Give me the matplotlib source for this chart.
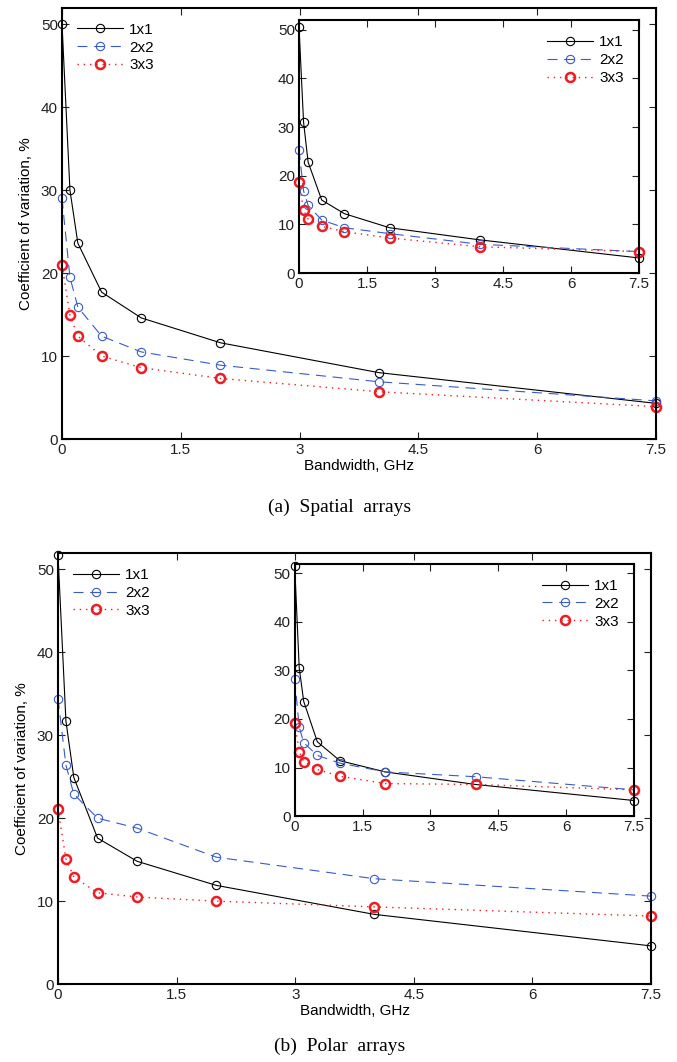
import matplotlib
matplotlib.use('Agg')
import matplotlib.pyplot as plt

plt.rcParams['font.family'] = ['Liberation Sans', 'DejaVu Sans']

# bandwidth values, GHz
bandwidth = [0, 0.1, 0.2, 0.5, 1, 2, 4, 7.5]
labels = ['1x1', '2x2', '3x3']
x_ticks = [0, 1.5, 3, 4.5, 6, 7.5]
x_tick_labels = ['0', '1.5', '3', '4.5', '6', '7.5']
y_ticks = [0, 10, 20, 30, 40, 50]

# (a) spatial arrays - main plot
spatial_1x1 = [50.0, 30.0, 23.6, 17.7, 14.6, 11.6, 8.0, 4.3]
spatial_2x2 = [29.0, 19.5, 15.9, 12.4, 10.5, 8.9, 6.9, 4.6]
spatial_3x3 = [21.0, 14.9, 12.4, 10.0, 8.6, 7.3, 5.7, 3.9]
# (a) spatial arrays - inset
spatial_in_1x1 = [50.5, 31.0, 22.8, 15.0, 12.2, 9.3, 6.8, 3.1]
spatial_in_2x2 = [25.3, 16.9, 13.9, 10.9, 9.3, 8.1, 5.9, 4.4]
spatial_in_3x3 = [18.7, 12.9, 11.1, 9.6, 8.5, 7.2, 5.4, 4.4]

# (b) polar arrays - main plot
polar_1x1 = [51.7, 31.7, 24.9, 17.6, 14.8, 11.9, 8.4, 4.6]
polar_2x2 = [34.4, 26.4, 22.9, 20.0, 18.8, 15.3, 12.7, 10.6]
polar_3x3 = [21.1, 15.1, 12.9, 11.0, 10.5, 10.0, 9.3, 8.2]
# (b) polar arrays - inset
polar_in_1x1 = [51.5, 30.5, 23.6, 15.3, 11.4, 9.1, 6.5, 3.2]
polar_in_2x2 = [28.2, 18.3, 15.1, 12.5, 10.9, 9.1, 8.1, 5.4]
polar_in_3x3 = [19.2, 13.3, 11.2, 9.6, 8.2, 6.7, 6.5, 5.4]

styles = [
    dict(color='black', linestyle='-', linewidth=0.8, marker='o', markersize=6,
         markerfacecolor='none', markeredgewidth=0.8),
    dict(color='#3a5bc7', linestyle=(0, (9, 6)), linewidth=0.8, marker='o', markersize=6,
         markerfacecolor='none', markeredgewidth=0.8),
    dict(color='#ee1c24', linestyle=(0, (1, 3.5)), linewidth=1.0, marker='o', markersize=6.5,
         markerfacecolor='none', markeredgewidth=1.8),
]

FS = 11


def draw(ax, series, legend_loc):
    for vals, lab, st in zip(series, labels, styles):
        ax.plot(bandwidth, vals, label=lab, clip_on=False, **st)
    ax.set_xlim(0, 7.5)
    ax.set_ylim(0, 52)
    ax.set_xticks(x_ticks)
    ax.set_xticklabels(x_tick_labels)
    ax.set_yticks(y_ticks)
    ax.tick_params(direction='in', top=True, right=True, labelsize=FS,
                   length=5, width=0.8, colors='#222222', pad=3)
    for sp in ax.spines.values():
        sp.set_linewidth(1.5)
    ax.legend(loc=legend_loc, frameon=False, fontsize=FS, handlelength=3.0,
              handletextpad=0.4, borderaxespad=0.6, labelspacing=0.25)


fig = plt.figure(figsize=(6.77, 10.62), dpi=100)

ax_a = fig.add_axes([0.0916, 0.5866, 0.8774, 0.4063])
draw(ax_a, [spatial_1x1, spatial_2x2, spatial_3x3], 'upper left')
ax_a.set_xlabel('Bandwidth, GHz', fontsize=FS, labelpad=1)
ax_a.set_ylabel('Coefficient of variation, %', fontsize=FS, labelpad=6)

ins_a = fig.add_axes([0.4417, 0.7429, 0.5022, 0.2383])
draw(ins_a, [spatial_in_1x1, spatial_in_2x2, spatial_in_3x3], 'upper right')

ax_b = fig.add_axes([0.0857, 0.0734, 0.876, 0.4061])
draw(ax_b, [polar_1x1, polar_2x2, polar_3x3], 'upper left')
ax_b.set_xlabel('Bandwidth, GHz', fontsize=FS, labelpad=1)
ax_b.set_ylabel('Coefficient of variation, %', fontsize=FS, labelpad=6)

ins_b = fig.add_axes([0.4353, 0.2316, 0.5012, 0.2376])
draw(ins_b, [polar_in_1x1, polar_in_2x2, polar_in_3x3], 'upper right')

fig.text(0.502, 1 - 507 / 1062, '(a)  Spatial  arrays', ha='center', va='center',
         family=['Liberation Serif', 'DejaVu Serif'], fontsize=14)
fig.text(0.502, 1 - 1046 / 1062, '(b)  Polar  arrays', ha='center', va='center',
         family=['Liberation Serif', 'DejaVu Serif'], fontsize=14)

fig.savefig('out.png', dpi=100)
